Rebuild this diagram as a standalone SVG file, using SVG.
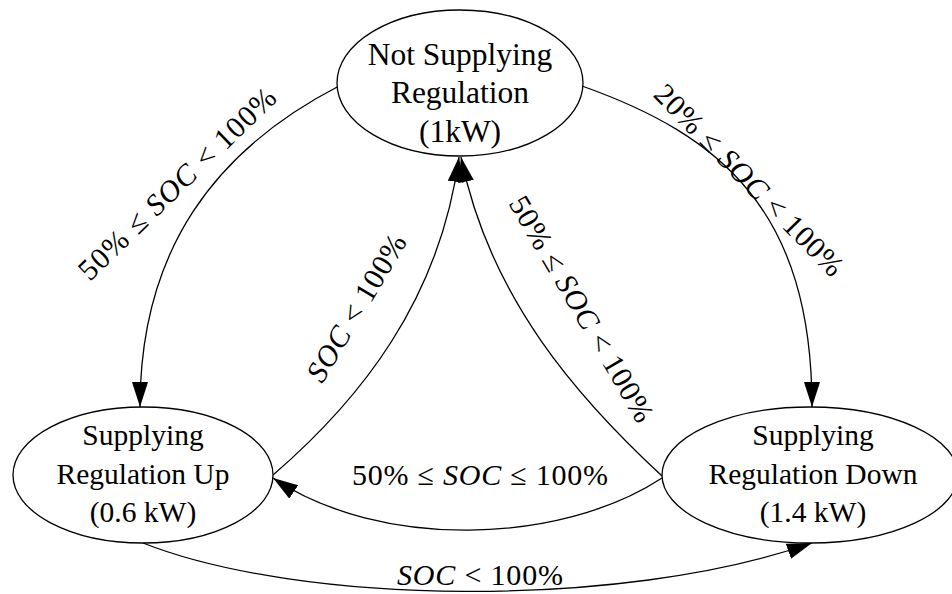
<svg xmlns="http://www.w3.org/2000/svg" width="952" height="594" viewBox="0 0 952 594">
  <defs>
    <marker id="arrow" markerUnits="userSpaceOnUse" markerWidth="26" markerHeight="18" refX="25" refY="8" orient="auto">
      <path d="M0,0 L25,8 L0,16 Z" fill="#000"/>
    </marker>
    <style>
      .state { fill: #fff; stroke: #000; stroke-width: 1.3; }
      .edge { fill: none; stroke: #000; stroke-width: 1.3; marker-end: url(#arrow); }
      .name-lg { font-size: 31.5px; text-anchor: middle; }
      .name { font-size: 29.5px; text-anchor: middle; }
      .cond { font-size: 30px; text-anchor: middle; }
      .it { font-style: italic; }
    </style>
  </defs>
  <rect width="952" height="594" fill="#fff"/>

  <g font-family="'Liberation Serif', 'DejaVu Serif', serif" fill="#000">
    <!-- transitions -->
    <g id="connectors">
      <!-- idle -> regulation up -->
      <path class="edge" d="M 339 86 C 215 150, 140 250, 140 407"/>
      <!-- idle -> regulation down -->
      <path class="edge" d="M 582 86 C 720 135, 812 210, 812 407"/>
      <!-- regulation up -> idle -->
      <path class="edge" d="M 273 475 C 360 400, 440 300, 459 157"/>
      <!-- regulation down -> idle -->
      <path class="edge" d="M 662 476 C 580 400, 490 300, 461 157"/>
      <!-- regulation down -> regulation up -->
      <path class="edge" d="M 662 478 C 560 545, 380 550, 273 478"/>
      <!-- regulation up -> regulation down -->
      <path class="edge" d="M 143 543 C 300 605, 620 610, 812 543"/>

      <text class="cond" transform="translate(184,191) rotate(-44)" textLength="262">50% ≤ <tspan class="it">SOC</tspan> &lt; 100%</text>
      <text class="cond" transform="translate(742,187) rotate(45.5)" textLength="256">20% ≤ <tspan class="it">SOC</tspan> &lt; 100%</text>
      <text class="cond" transform="translate(365,313) rotate(-59)" textLength="166"><tspan class="it">SOC</tspan> &lt; 100%</text>
      <text class="cond" transform="translate(573,314) rotate(59.6)" textLength="257">50% ≤ <tspan class="it">SOC</tspan> &lt; 100%</text>
      <text class="cond" x="480" y="485" textLength="256">50% ≤ <tspan class="it">SOC</tspan> ≤ 100%</text>
      <text class="cond" x="480" y="585" textLength="166"><tspan class="it">SOC</tspan> &lt; 100%</text>
    </g>

    <!-- states -->
    <g id="not-supplying">
      <ellipse class="state" cx="460" cy="83" rx="123" ry="73"/>
      <text class="name-lg" x="460" y="65">Not Supplying</text>
      <text class="name-lg" x="460" y="103">Regulation</text>
      <text class="name-lg" x="460" y="142">(1kW)</text>
    </g>

    <g id="regulation-up">
      <ellipse class="state" cx="143" cy="475" rx="130" ry="68"/>
      <text class="name" x="143" y="445">Supplying</text>
      <text class="name" x="143" y="484">Regulation Up</text>
      <text class="name" x="143" y="522">(0.6 kW)</text>
    </g>

    <g id="regulation-down">
      <ellipse class="state" cx="810" cy="475" rx="148" ry="68"/>
      <text class="name" x="813" y="445">Supplying</text>
      <text class="name" x="813" y="484">Regulation Down</text>
      <text class="name" x="813" y="522">(1.4 kW)</text>
    </g>
  </g>
</svg>
